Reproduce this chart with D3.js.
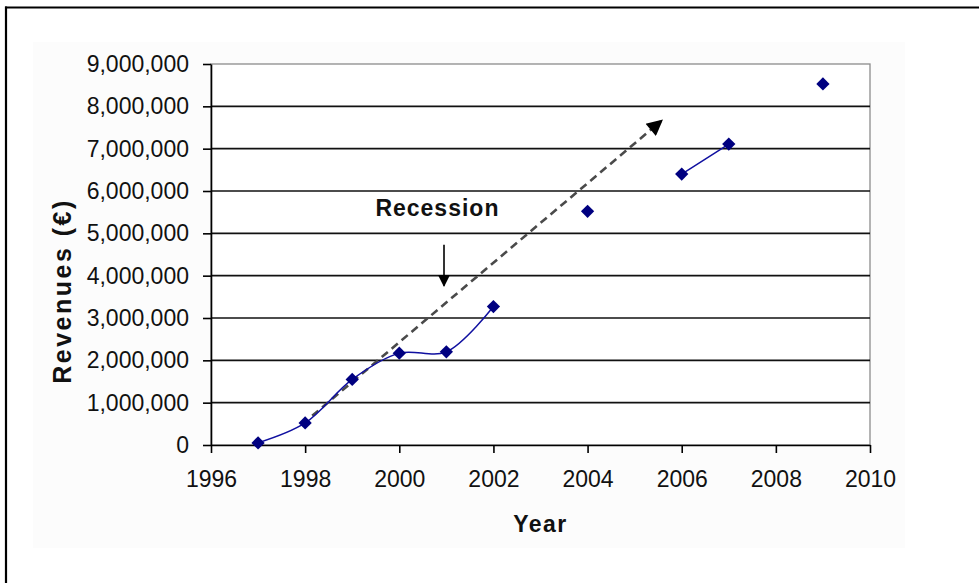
<!DOCTYPE html>
<html>
<head>
<meta charset="utf-8">
<script src="https://cdn.jsdelivr.net/npm/d3@7"></script>
<style>
  html, body { margin: 0; padding: 0; background: #fff; }
  svg { display: block; }
  text { font-family: "Liberation Sans", Arial, sans-serif; }
</style>
</head>
<body>
<svg id="chart" width="979" height="583"></svg>
<script>
// Annual revenues; null marks a year with no reported figure
const years = [1997, 1998, 1999, 2000, 2001, 2002, 2003, 2004, 2005, 2006, 2007, 2008, 2009];
const revenues = [50000, 520000, 1550000, 2170000, 2200000, 3270000, null, 5520000, null, 6400000, 7110000, null, 8530000];

// Axis ticks
const xTicks = [1996, 1998, 2000, 2002, 2004, 2006, 2008, 2010];
const yTicks = [0, 1000000, 2000000, 3000000, 4000000, 5000000, 6000000, 7000000, 8000000, 9000000];

// Annotations: trend arrow and recession marker (year, revenue)
const trendArrow = [[1998.15, 690000], [2005.55, 7640000]];
const recessionArrow = [[2000.95, 4730000], [2000.95, 3760000]];
const recessionLabel = { year: 2000.81, value: 5400000, text: "Recession" };

const svg = d3.select("#chart");

const x = d3.scaleLinear().domain([1996, 2010]).range([211, 870]);
const y = d3.scaleLinear().domain([0, 9000000]).range([445, 64]);

// Outer frame and chart area
svg.append("rect").attr("x", 33).attr("y", 42).attr("width", 872).attr("height", 506).attr("fill", "#fcfcfc");
svg.append("line").attr("x1", 5).attr("x2", 979).attr("y1", 7.5).attr("y2", 7.5).attr("stroke", "#000").attr("stroke-width", 2.2);
svg.append("line").attr("x1", 6).attr("x2", 6).attr("y1", 6.5).attr("y2", 583).attr("stroke", "#000").attr("stroke-width", 2.2);

// Plot area
svg.append("rect")
  .attr("x", x(1996)).attr("y", y(9000000))
  .attr("width", x(2010) - x(1996)).attr("height", y(0) - y(9000000))
  .attr("fill", "#fff").attr("stroke", "#8c8c8c").attr("stroke-width", 1.3);

// Horizontal gridlines
svg.append("g").selectAll("line")
  .data(yTicks.filter(v => v > 0 && v < 9000000))
  .join("line")
  .attr("x1", x(1996)).attr("x2", x(2010))
  .attr("y1", d => y(d)).attr("y2", d => y(d))
  .attr("stroke", "#111").attr("stroke-width", 1.6);

// Axes
const yAxis = svg.append("g")
  .attr("transform", `translate(${x(1996)},0)`)
  .call(d3.axisLeft(y).tickValues(yTicks).tickSize(8).tickSizeOuter(0).tickPadding(14).tickFormat(d3.format(",")));
const xAxis = svg.append("g")
  .attr("transform", `translate(0,${y(0)})`)
  .call(d3.axisBottom(x).tickValues(xTicks).tickSize(8).tickSizeOuter(0).tickPadding(18).tickFormat(d3.format("d")));

[yAxis, xAxis].forEach(g => {
  g.selectAll("path.domain").attr("stroke", "#000").attr("stroke-width", 1.6);
  g.selectAll(".tick line").attr("stroke", "#000").attr("stroke-width", 1.6);
  g.selectAll(".tick text").attr("fill", "#111").style("font-size", "23px");
});

// Axis titles
svg.append("text")
  .attr("x", x(2003)).attr("y", 532)
  .attr("text-anchor", "middle")
  .style("font-size", "23px").style("font-weight", "bold").style("letter-spacing", "1.5px")
  .attr("fill", "#111")
  .text("Year");

svg.append("text")
  .attr("transform", "translate(71,291) rotate(-90)")
  .attr("text-anchor", "middle")
  .style("font-size", "25px").style("font-weight", "bold").style("letter-spacing", "2.5px")
  .attr("fill", "#111")
  .text("Revenues (€)");

// Markers for arrows
const defs = svg.append("defs");
defs.append("marker")
  .attr("id", "head-trend").attr("viewBox", "0 0 10 10")
  .attr("refX", 8).attr("refY", 5)
  .attr("markerUnits", "userSpaceOnUse")
  .attr("markerWidth", 18).attr("markerHeight", 16)
  .attr("orient", "auto")
  .append("path").attr("d", "M0,0 L10,5 L0,10 Z").attr("fill", "#000");
defs.append("marker")
  .attr("id", "head-rec").attr("viewBox", "0 0 10 10")
  .attr("refX", 9).attr("refY", 5)
  .attr("markerUnits", "userSpaceOnUse")
  .attr("markerWidth", 12).attr("markerHeight", 12)
  .attr("orient", "auto")
  .append("path").attr("d", "M0,0 L10,5 L0,10 Z").attr("fill", "#000");

// Trend arrow (dashed)
svg.append("path")
  .datum(trendArrow)
  .attr("d", d3.line().x(d => x(d[0])).y(d => y(d[1])))
  .attr("fill", "none").attr("stroke", "#4a4a4a").attr("stroke-width", 2.6)
  .attr("stroke-dasharray", "8,5")
  .attr("marker-end", "url(#head-trend)");

// Revenue line, smoothed, broken where a year is missing
const series = years.map((yr, i) => ({ year: yr, value: revenues[i] }));
svg.append("path")
  .datum(series)
  .attr("d", d3.line().defined(d => d.value != null).curve(d3.curveCatmullRom).x(d => x(d.year)).y(d => y(d.value)))
  .attr("fill", "none").attr("stroke", "#1010a0").attr("stroke-width", 1.5);

// Data markers
svg.append("g").selectAll("path")
  .data(series.filter(d => d.value != null))
  .join("path")
  .attr("transform", d => `translate(${x(d.year)},${y(d.value)}) rotate(45)`)
  .attr("d", d3.symbol().type(d3.symbolSquare).size(88))
  .attr("fill", "#000080");

// Recession annotation
svg.append("path")
  .datum(recessionArrow)
  .attr("d", d3.line().x(d => x(d[0])).y(d => y(d[1])))
  .attr("stroke", "#000").attr("stroke-width", 1.6)
  .attr("marker-end", "url(#head-rec)");

svg.append("text")
  .attr("x", x(recessionLabel.year)).attr("y", y(recessionLabel.value))
  .attr("text-anchor", "middle")
  .style("font-size", "23px").style("font-weight", "bold").style("letter-spacing", "1px")
  .attr("fill", "#111")
  .text(recessionLabel.text);
</script>
</body>
</html>
